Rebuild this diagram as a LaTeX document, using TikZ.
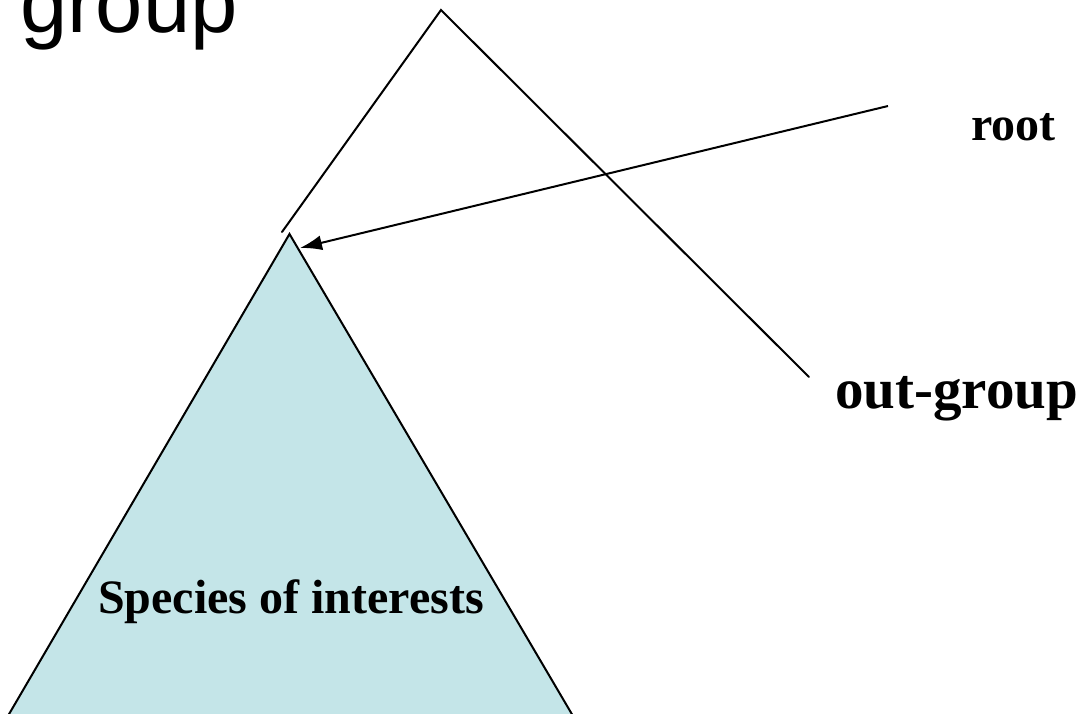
\documentclass[tikz,border=0pt]{standalone}
\usepackage{fontspec}
\setmainfont{Liberation Serif}
\newfontfamily\arialfont{Liberation Sans}
\usetikzlibrary{arrows.meta}
\definecolor{cladefill}{RGB}{196,229,232}
\tikzset{
  branch/.style={line width=2pt, line cap=round},
  label/.style={anchor=base west, inner sep=0pt, font=\fontsize{48}{54}\selectfont\bfseries},
  pointer/.style={line width=2pt, -{Latex[length=22pt,width=15pt]}},
}
\begin{document}
\begin{tikzpicture}[x=1pt,y=-1pt]
  \useasboundingbox (0,0) rectangle (1080,713);
  \clip (0,0) rectangle (1080,713);
  \fill[white] (0,0) rectangle (1080,713);

  % heading, partly above the page
  \node[anchor=base west, inner sep=0pt, font=\arialfont\fontsize{85}{90}\selectfont] (heading) at (20,32) {group};

  % clade of the species of interest
  \coordinate (apex) at (289.5,234);
  \coordinate (cornerL) at (-2,733);
  \coordinate (cornerR) at (583,733);
  \filldraw[fill=cladefill, branch] (cornerL) -- (apex) -- (cornerR);
  \node[label] (species) at (98,613) {Species of interests};

  % root and out-group branches
  \coordinate (rootpt) at (441,10);
  \coordinate (inEnd) at (282,232);
  \coordinate (outEnd) at (809,377);
  \draw[branch] (inEnd) -- (rootpt) -- (outEnd);

  \node[label] (root) at (971,140) {root};
  \node[label, font=\fontsize{57}{60}\selectfont\bfseries] (outgroup) at (835,408) {out-group};

  % pointer to the clade apex
  \coordinate (ptrStart) at (888,106);
  \coordinate (ptrTip) at (300,248);
  \draw[pointer] (ptrStart) -- (ptrTip);
\end{tikzpicture}
\end{document}
